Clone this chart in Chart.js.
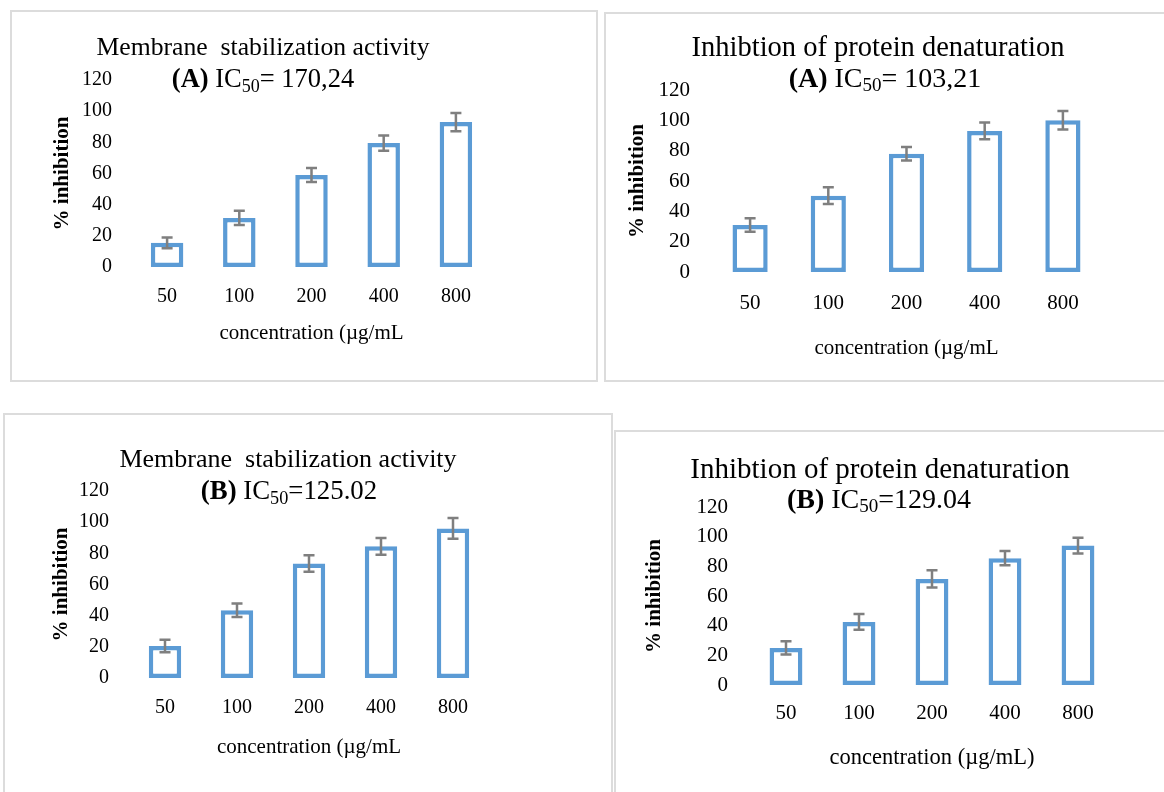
<!DOCTYPE html>
<html>
<head>
<meta charset="utf-8">
<script src="https://cdn.jsdelivr.net/npm/chart.js@4.4.1/dist/chart.umd.min.js"></script>
<style>
  body { margin: 0; width: 1164px; height: 792px; background: #fff; overflow: hidden; position: relative; font-family: "Liberation Serif", "Times New Roman", serif; }
  .panel { position: absolute; border: 2px solid #dcdcdc; box-sizing: border-box; }
  .panel canvas { position: absolute; left: -2px; top: -2px; }
  .ttl { position: absolute; transform: translate(-50%, -50%); white-space: nowrap; line-height: 1; color: #000; }
  .ttl sub { font-size: 68%; vertical-align: -0.25em; }
</style>
</head>
<body>

<script>
// shared categories
const concentrations = ["50", "100", "200", "400", "800"];
const yTickValues = [0, 20, 40, 60, 80, 100, 120];

// membrane stabilization (A)
const membraneA = [15.5, 31.5, 59, 79.5, 93];
const membraneAErr = [3.5, 4.6, 4.5, 4.9, 5.9];
// protein denaturation (A)
const proteinA = [31, 50.3, 78, 93, 100];
const proteinAErr = [4.4, 5.5, 4.5, 5.5, 6.1];
// membrane stabilization (B)
const membraneB = [20.5, 43.5, 73.5, 84.5, 96];
const membraneBErr = [4, 4.3, 5.3, 5.4, 6.7];
// protein denaturation (B)
const proteinB = [25, 42.5, 71.5, 85.5, 94];
const proteinBErr = [4.5, 5.3, 5.8, 4.8, 5.3];

const titleMembrane = "Membrane\u00a0 stabilization activity";
const titleProtein = "Inhibtion of protein denaturation";
const yAxisTitle = "% inhibition";
const xAxisTitle = "concentration (\u00b5g/mL";
const xAxisTitleClosed = "concentration (\u00b5g/mL)";

const BLUE = "#5b9bd5";
const SERIF = "'Liberation Serif', 'Times New Roman', serif";

// draws the grey error bars on top of the bars
const errorBars = {
  id: "errorBars",
  afterDatasetsDraw(chart, args, opts) {
    const { ctx, scales: { x, y } } = chart;
    const vals = chart.data.datasets[0].data;
    ctx.save();
    ctx.strokeStyle = "#7f7f7f";
    ctx.lineWidth = 2.5;
    vals.forEach((v, i) => {
      const e = opts.errors[i];
      const px = x.getPixelForValue(i);
      const hi = y.getPixelForValue(v + e);
      const lo = y.getPixelForValue(v - e);
      ctx.beginPath();
      ctx.moveTo(px, hi); ctx.lineTo(px, lo);
      ctx.moveTo(px - 5.5, hi); ctx.lineTo(px + 5.5, hi);
      ctx.moveTo(px - 5.5, lo); ctx.lineTo(px + 5.5, lo);
      ctx.stroke();
    });
    ctx.restore();
  }
};

function addTitle(text, cx, cy, size) {
  const d = document.createElement("div");
  d.className = "ttl";
  d.style.left = cx + "px";
  d.style.top = cy + "px";
  d.style.fontSize = size + "px";
  d.innerHTML = text;
  document.body.appendChild(d);
}

function makePanel(p) {
  const div = document.createElement("div");
  div.className = "panel";
  div.style.left = p.box.left + "px";
  div.style.top = p.box.top + "px";
  div.style.width = p.box.width + "px";
  div.style.height = p.box.height + "px";
  const cv = document.createElement("canvas");
  cv.width = p.box.width;
  cv.height = p.box.height;
  div.appendChild(cv);
  document.body.appendChild(div);

  const lhT = p.tickSize * 1.2, lhX = p.xTitleSize * 1.2, lhY = p.yTitleSize * 1.2;
  const yW = p.area.left - p.yTitleX + lhY / 2;
  const xH = p.xTitleY + lhX / 2 - p.area.bottom;

  new Chart(cv, {
    type: "bar",
    data: {
      labels: concentrations,
      datasets: [{
        data: p.values,
        backgroundColor: "#ffffff",
        borderColor: BLUE,
        borderWidth: 4.5,
        borderSkipped: false,
        barPercentage: 0.45,
        categoryPercentage: 1
      }]
    },
    options: {
      responsive: false,
      animation: false,
      layout: {
        padding: {
          top: p.area.top - p.box.top,
          left: p.area.left - p.box.left - yW,
          right: p.box.left + p.box.width - p.area.right,
          bottom: p.box.top + p.box.height - p.area.bottom - xH
        }
      },
      plugins: {
        legend: { display: false },
        tooltip: { enabled: false },
        errorBars: { errors: p.errors }
      },
      scales: {
        x: {
          grid: { display: false, drawTicks: false, tickLength: 0 },
          border: { display: false },
          ticks: { color: "#000", font: { family: SERIF, size: p.tickSize }, padding: p.xTickY - p.area.bottom - lhT / 2 },
          title: { display: true, text: p.xTitle, color: "#000", padding: 0, font: { family: SERIF, size: p.xTitleSize } },
          afterFit(s) { s.height = xH; }
        },
        y: {
          min: 0,
          max: 120,
          afterBuildTicks(s) { s.ticks = yTickValues.map(v => ({ value: v })); },
          grid: { display: false, drawTicks: false, tickLength: 0 },
          border: { display: false },
          ticks: { color: "#000", font: { family: SERIF, size: p.tickSize }, padding: p.area.left - p.yTickRight },
          title: { display: true, text: yAxisTitle, color: "#000", padding: 0, font: { family: SERIF, size: p.yTitleSize, weight: "bold" } },
          afterFit(s) { s.width = yW; }
        }
      }
    },
    plugins: [errorBars]
  });

  addTitle(p.title, p.t1.x, p.t1.y, p.titleSize);
  addTitle(p.sub, p.t2.x, p.t2.y, p.subSize);
}

makePanel({
  box: { left: 10, top: 10, width: 588, height: 372 },
  area: { left: 131, right: 492, top: 80, bottom: 267 },
  yTickRight: 112, yTitleX: 63, xTickY: 297, xTitleY: 333,
  tickSize: 20, yTitleSize: 21, xTitleSize: 21, titleSize: 25.7, subSize: 26.5,
  values: membraneA, errors: membraneAErr, xTitle: xAxisTitle,
  title: titleMembrane, sub: "<b>(A)</b> IC<sub>50</sub>= 170,24",
  t1: { x: 263, y: 47 }, t2: { x: 263, y: 80 }
});

makePanel({
  box: { left: 604, top: 12, width: 580, height: 370 },
  area: { left: 711, right: 1102, top: 90, bottom: 272 },
  yTickRight: 690, yTitleX: 638, xTickY: 303, xTitleY: 348,
  tickSize: 21, yTitleSize: 21, xTitleSize: 21, titleSize: 28.5, subSize: 28,
  values: proteinA, errors: proteinAErr, xTitle: xAxisTitle,
  title: titleProtein, sub: "<b>(A)</b> IC<sub>50</sub>= 103,21",
  t1: { x: 878, y: 47 }, t2: { x: 885, y: 79 }
});

makePanel({
  box: { left: 3, top: 413, width: 610, height: 400 },
  area: { left: 129, right: 489, top: 491, bottom: 678 },
  yTickRight: 109, yTitleX: 62, xTickY: 708, xTitleY: 747,
  tickSize: 20, yTitleSize: 21, xTitleSize: 21, titleSize: 26, subSize: 26.8,
  values: membraneB, errors: membraneBErr, xTitle: xAxisTitle,
  title: titleMembrane, sub: "<b>(B)</b> IC<sub>50</sub>=125.02",
  t1: { x: 288, y: 459 }, t2: { x: 289, y: 492 }
});

makePanel({
  box: { left: 614, top: 430, width: 570, height: 380 },
  area: { left: 749.5, right: 1114.5, top: 507, bottom: 685 },
  yTickRight: 728, yTitleX: 655, xTickY: 713, xTitleY: 758,
  tickSize: 21, yTitleSize: 21, xTitleSize: 22.5, titleSize: 29, subSize: 28,
  values: proteinB, errors: proteinBErr, xTitle: xAxisTitleClosed,
  title: titleProtein, sub: "<b>(B)</b> IC<sub>50</sub>=129.04",
  t1: { x: 880, y: 468 }, t2: { x: 879, y: 500 }
});
</script>
</body>
</html>
